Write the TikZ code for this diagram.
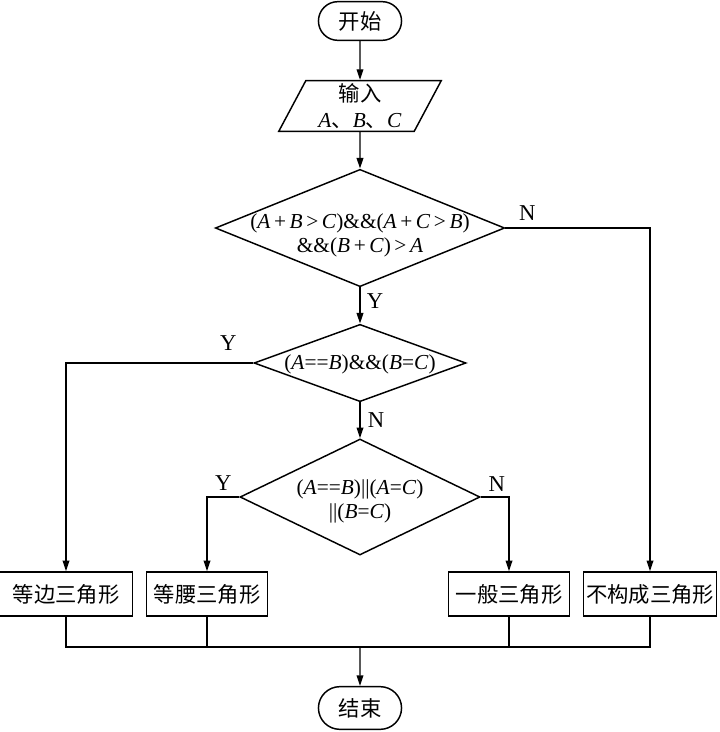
\documentclass[tikz,border=0pt]{standalone}
\usepackage{fontspec}
\setmainfont{Liberation Serif}
\newfontfamily\cjk{Noto Sans CJK SC}
\usetikzlibrary{shapes.geometric, shapes.misc, arrows.meta, calc}
\newcommand{\zh}[1]{{\cjk #1}}
\newcommand{\vr}[1]{\textit{#1}}
\tikzset{
    startstop/.style={rounded rectangle, draw, minimum width=69pt, minimum height=29pt, font=\fontsize{16}{18}\selectfont\cjk},
    io/.style={trapezium, trapezium left angle=65, trapezium right angle=115, trapezium stretches=true,
        draw, minimum width=123pt, minimum height=38pt, align=center, inner sep=0pt, font=\fontsize{16}{19}\selectfont},
    decision/.style={diamond, draw, inner sep=0pt, font=\fontsize{16}{18}\selectfont},
    process/.style={rectangle, draw, minimum height=33pt, inner sep=0pt, font=\fontsize{16}{18}\selectfont\cjk},
    yn/.style={font=\fontsize{17}{18}\selectfont, inner sep=0pt},
    arrow/.style={->, >={Triangle[length=8pt,width=5pt]}}
}

\begin{document}
\begin{tikzpicture}[x=0.75pt, y=-0.75pt, line width=1.1pt]
        \useasboundingbox (0,0) rectangle (720,732);
        % Layout
        \node [startstop] (start) at (360,21) {开始};
        \node [io] (input) at (360,106) {\zh{输入}\\\vr{A}\zh{、}\vr{B}\zh{、}\vr{C}};
        \node [decision, minimum width=217pt, minimum height=88pt] (cond1) at (360,228)
            {\makebox[0pt]{\smash{\raisebox{-10pt}{\begin{tabular}{@{}c@{}}(\vr{A}\,+\,\vr{B}\,>\,\vr{C})\&\&(\vr{A}\,+\,\vr{C}\,>\,\vr{B})\\\&\&(\vr{B}\,+\,\vr{C})\,>\,\vr{A}\end{tabular}}}}};
        \node [decision, minimum width=159pt, minimum height=58pt] (cond2) at (360,363)
            {\makebox[0pt]{\smash{\raisebox{-5pt}{(\vr{A}==\vr{B})\&\&(\vr{B}=\vr{C})}}}};
        \node [decision, minimum width=180pt, minimum height=87pt] (cond3) at (360,497)
            {\makebox[0pt]{\smash{\raisebox{-8pt}{\begin{tabular}{@{}c@{}}(\vr{A}==\vr{B})||(\vr{A}=\vr{C})\\||(\vr{B}=\vr{C})\end{tabular}}}}};
        \node [process, minimum width=100pt] (equi) at (66,594) {等边三角形};
        \node [process, minimum width=91pt] (iso) at (207,594) {等腰三角形};
        \node [process, minimum width=91pt] (general) at (509,594) {一般三角形};
        \node [process, minimum width=100pt] (nontri) at (650,594) {不构成三角形};
        \node [startstop, minimum height=32pt] (end) at (360,708) {结束};
        \coordinate (merge) at (360,647);

        % Labels
        \node [yn] (n1) at ($(cond1.east)+(22,-15)$) {N};
        \node [yn] (y1) at ($(cond1.south)+(15,14)$) {Y};
        \node [yn] (y2) at ($(cond2.west)+(-25,-20)$) {Y};
        \node [yn] (n2) at ($(cond2.south)+(16,18)$) {N};
        \node [yn] (y3) at ($(cond3.west)+(-16,-14)$) {Y};
        \node [yn] (n3) at ($(cond3.east)+(16,-13)$) {N};

        % Flows
        \draw [arrow] (start) -- (input);
        \draw [arrow] (input) -- (cond1);
        \draw [arrow] (cond1) -- (cond2);
        \draw [arrow] (cond2) -- (cond3);
        \draw [arrow] (cond1.east) -| (nontri.north);
        \draw [arrow] (cond2.west) -| (equi.north);
        \draw [arrow] (cond3.west) -| (iso.north);
        \draw [arrow] (cond3.east) -| (general.north);
        \draw (equi.south) |- (nontri.south |- merge) -- (nontri.south);
        \draw (iso.south) -- (iso.south |- merge);
        \draw (general.south) -- (general.south |- merge);
        \draw [arrow] (merge) -- (end);
    \end{tikzpicture}
\end{document}
